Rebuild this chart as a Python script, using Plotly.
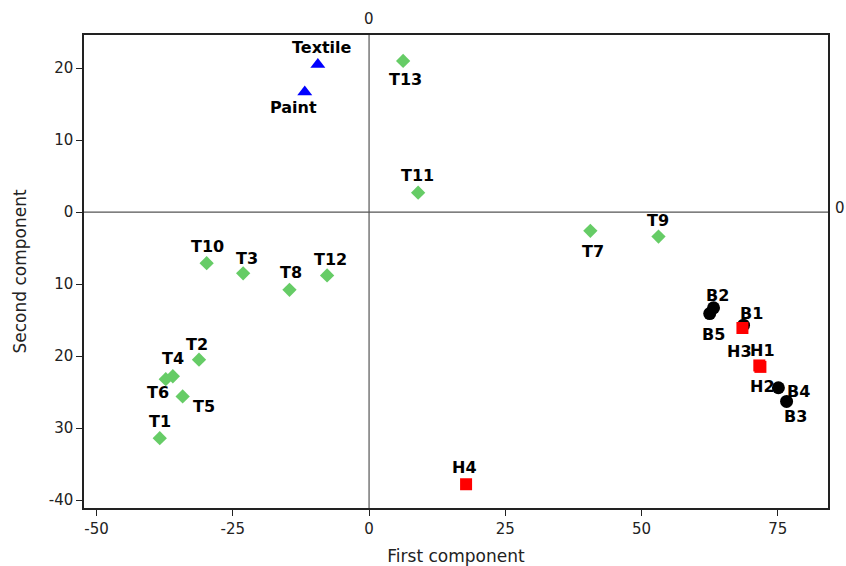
import plotly.graph_objects as go

# ---- data ----
paint_names = ["Textile", "Paint"]
paint_x = [-9.4, -11.8]
paint_y = [20.5, 16.7]

t_names = ["T1", "T2", "T3", "T4", "T5", "T6", "T7", "T8", "T9", "T10", "T11", "T12", "T13"]
t_x = [-38.4, -31.2, -23.1, -36.0, -34.2, -37.3, 40.6, -14.6, 53.1, -29.8, 9.0, -7.7, 6.25]
t_y = [-31.4, -20.5, -8.5, -22.8, -25.6, -23.2, -2.6, -10.8, -3.4, -7.1, 2.7, -8.8, 21.0]

b_names = ["B1", "B2", "B3", "B4", "B5"]
b_x = [68.7, 63.2, 76.6, 75.1, 62.5]
b_y = [-15.7, -13.3, -26.3, -24.4, -14.1]

h_names = ["H1", "H2", "H3", "H4"]
h_x = [71.6, 71.8, 68.5, 17.8]
h_y = [-21.3, -21.5, -16.1, -37.8]

x_tickvals = [-50, -25, 0, 25, 50, 75]
x_ticktext = ["-50", "-25", "0", "25", "50", "75"]
y_tickvals = [20, 10, 0, -10, -20, -30, -40]
y_ticktext = ["20", "10", "0", "10", "20", "30", "-40"]

# ---- label offsets (pixels: dx right, dy down) ----
label_offsets = {
    "Textile": (4, -17), "Paint": (-11, 16),
    "T1": (0, -17), "T2": (-2, -15), "T3": (4, -15), "T4": (0, -18), "T5": (21, 10),
    "T6": (-8, 13), "T7": (3, 21), "T8": (2, -17), "T9": (0, -16), "T10": (1, -17),
    "T11": (-1, -17), "T12": (3, -16), "T13": (2, 19),
    "B1": (8, -12), "B2": (4, -12), "B3": (9, 15), "B4": (20, 4), "B5": (4, 21),
    "H1": (3, -15), "H2": (2, 20), "H3": (-3, 23), "H4": (-2, -17),
}

FONT = "DejaVu Sans, Verdana, sans-serif"

fig = go.Figure()

fig.add_trace(go.Scatter(x=t_x, y=t_y, mode="markers", name="T",
                         marker=dict(symbol="diamond", size=11, color="#66CC66",
                                     line=dict(width=0))))
fig.add_trace(go.Scatter(x=b_x, y=b_y, mode="markers", name="B",
                         marker=dict(symbol="circle", size=13, color="#000000",
                                     line=dict(width=0))))
fig.add_trace(go.Scatter(x=h_x, y=h_y, mode="markers", name="H",
                         marker=dict(symbol="square", size=12, color="#FF0000",
                                     line=dict(width=0))))
fig.add_trace(go.Scatter(x=paint_x, y=paint_y, mode="markers", name="Paint",
                         marker=dict(symbol="triangle-up", size=13, color="#0000FF",
                                     line=dict(width=0))))

annotations = []
for names, xs, ys in [(paint_names, paint_x, paint_y), (t_names, t_x, t_y),
                      (b_names, b_x, b_y), (h_names, h_x, h_y)]:
    for n, x, y in zip(names, xs, ys):
        dx, dy = label_offsets[n]
        annotations.append(dict(x=x, y=y, text="<b>%s</b>" % n, showarrow=False,
                                xshift=dx, yshift=-dy,
                                font=dict(family=FONT, size=16, color="#000000")))

# zero-line labels
annotations.append(dict(x=0, y=1, xref="x", yref="paper", yanchor="bottom", yshift=5,
                        text="0", showarrow=False,
                        font=dict(family=FONT, size=15, color="#222222")))
annotations.append(dict(x=1, y=0, xref="paper", yref="y", xanchor="left", xshift=5,
                        yshift=4, text="0", showarrow=False,
                        font=dict(family=FONT, size=15, color="#222222")))

fig.add_shape(type="line", xref="x", yref="paper", x0=0, x1=0, y0=0, y1=1,
              line=dict(color="#555555", width=1.2), layer="below")
fig.add_shape(type="line", xref="paper", yref="y", x0=0, x1=1, y0=0, y1=0,
              line=dict(color="#555555", width=1.2), layer="below")

fig.update_layout(
    width=846, height=566,
    margin=dict(l=84, r=18, t=35, b=58),
    paper_bgcolor="white", plot_bgcolor="white",
    showlegend=False,
    annotations=annotations,
    font=dict(family=FONT, size=15, color="#222222"),
)
fig.update_xaxes(range=[-52.3, 84.2], tickvals=x_tickvals, ticktext=x_ticktext,
                 showgrid=False, zeroline=False, showline=True, linecolor="#222222",
                 linewidth=1.5, mirror=True, ticks="outside", ticklen=6, automargin=False,
                 tickcolor="#222222", tickfont=dict(family=FONT, size=15, color="#222222"),
                 title=dict(text="First component", standoff=14,
                            font=dict(family=FONT, size=17, color="#222222")))
fig.update_yaxes(range=[-41.1, 24.6], tickvals=y_tickvals, ticktext=y_ticktext,
                 showgrid=False, zeroline=False, showline=True, linecolor="#222222",
                 linewidth=1.5, mirror=True, ticks="outside", ticklen=6, automargin=False,
                 tickcolor="#222222", tickfont=dict(family=FONT, size=15, color="#222222"),
                 title=dict(text="Second component", standoff=18,
                            font=dict(family=FONT, size=17, color="#222222")))

fig.write_html("out.html", config={"displayModeBar": False},
               post_script="document.body.style.margin='0';document.body.style.overflow='hidden';")
